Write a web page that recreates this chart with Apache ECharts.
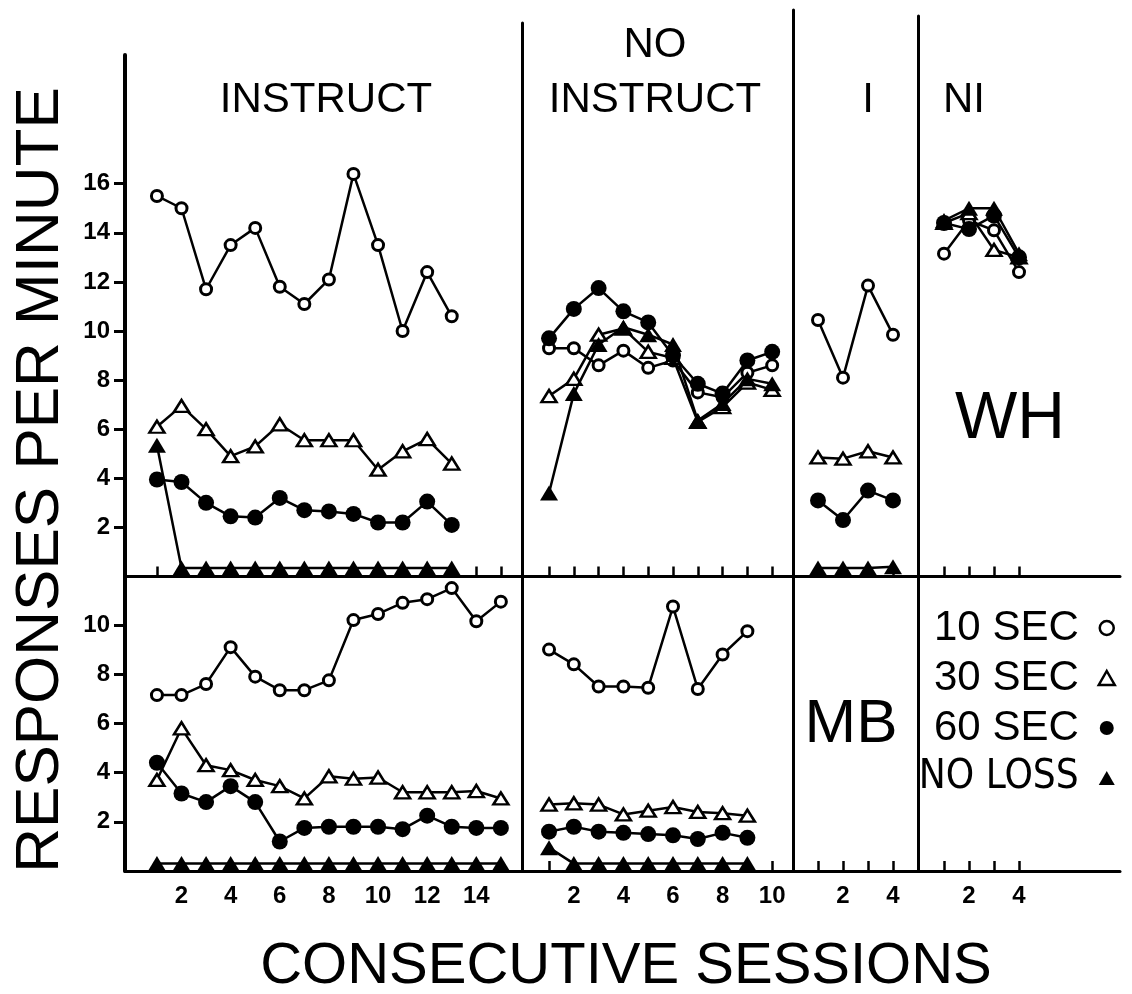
<!DOCTYPE html>
<html><head><meta charset="utf-8">
<script src="https://cdn.jsdelivr.net/npm/echarts@6/dist/echarts.min.js"></script>
<style>html,body{margin:0;padding:0;background:#fff}#c{width:1132px;height:994px}</style>
</head><body><div id="c"></div>
<script>
// ---------- DATA ----------
const conditions = ['10 SEC', '30 SEC', '60 SEC', 'NO LOSS'];
const phases = ['INSTRUCT', 'NO INSTRUCT', 'I', 'NI'];
const subjects = ['WH', 'MB'];

const yTicksWH = [2, 4, 6, 8, 10, 12, 14, 16];
const yTicksMB = [2, 4, 6, 8, 10];
const sessionTicksInstruct = [1, 2, 3, 4, 5, 6, 7, 8, 9, 10, 11, 12, 13, 14, 15];
const sessionTicksNoInstruct = [1, 2, 3, 4, 5, 6, 7, 8, 9, 10];
const sessionTicksI = [1, 2, 3, 4];
const sessionTicksNI = [1, 2, 3, 4];
const xLabelsInstruct = [2, 4, 6, 8, 10, 12, 14];
const xLabelsNoInstruct = [2, 4, 6, 8, 10];
const xLabelsI = [2, 4];
const xLabelsNI = [2, 4];

// WH (top row)
const WH_instruct_10 = [15.5, 15.0, 11.7, 13.5, 14.2, 11.8, 11.1, 12.1, 16.4, 13.5, 10.0, 12.4, 10.6];
const WH_instruct_30 = [6.1, 6.95, 6.0, 4.9, 5.3, 6.2, 5.55, 5.55, 5.55, 4.35, 5.1, 5.6, 4.6];
const WH_instruct_60 = [3.95, 3.85, 3.0, 2.45, 2.4, 3.2, 2.7, 2.65, 2.55, 2.2, 2.2, 3.05, 2.1];
const WH_instruct_NL = [5.35, 0.35, 0.35, 0.35, 0.35, 0.35, 0.35, 0.35, 0.35, 0.35, 0.35, 0.35, 0.35];

const WH_noinstruct_10 = [9.3, 9.3, 8.6, 9.2, 8.5, 8.8, 7.5, 7.3, 8.3, 8.6];
const WH_noinstruct_30 = [7.35, 8.05, 9.85, 10.1, 9.15, 8.9, 6.3, 6.9, 7.9, 7.6];
const WH_noinstruct_60 = [9.7, 10.9, 11.75, 10.8, 10.35, 9.0, 7.85, 7.45, 8.8, 9.15];
const WH_noinstruct_NL = [3.4, 7.45, 9.45, 10.15, 9.85, 9.45, 6.35, 7.05, 8.05, 7.85];

const WH_I_10 = [10.45, 8.1, 11.85, 9.85];
const WH_I_30 = [4.85, 4.8, 5.1, 4.85];
const WH_I_60 = [3.1, 2.3, 3.5, 3.1];
const WH_I_NL = [0.35, 0.35, 0.35, 0.4];

const WH_NI_10 = [13.15, 14.5, 14.1, 12.4];
const WH_NI_30 = [14.4, 14.8, 13.3, 13.0];
const WH_NI_60 = [14.4, 14.15, 14.7, 13.0];
const WH_NI_NL = [14.5, 15.0, 15.0, 13.15];

// MB (bottom row)
const MB_instruct_10 = [7.15, 7.15, 7.6, 9.1, 7.9, 7.35, 7.35, 7.75, 10.2, 10.45, 10.9, 11.05, 11.5, 10.15, 10.95];
const MB_instruct_30 = [3.7, 5.8, 4.3, 4.1, 3.7, 3.45, 2.95, 3.85, 3.75, 3.8, 3.2, 3.2, 3.2, 3.25, 2.95];
const MB_instruct_60 = [4.4, 3.15, 2.8, 3.45, 2.8, 1.2, 1.75, 1.8, 1.8, 1.8, 1.7, 2.25, 1.8, 1.75, 1.75];
const MB_instruct_NL = [0.3, 0.3, 0.3, 0.3, 0.3, 0.3, 0.3, 0.3, 0.3, 0.3, 0.3, 0.3, 0.3, 0.3, 0.3];

const MB_noinstruct_10 = [9.0, 8.4, 7.5, 7.5, 7.45, 10.75, 7.4, 8.8, 9.75];
const MB_noinstruct_30 = [2.7, 2.75, 2.7, 2.3, 2.45, 2.6, 2.4, 2.35, 2.25];
const MB_noinstruct_60 = [1.6, 1.8, 1.6, 1.55, 1.5, 1.45, 1.3, 1.55, 1.35];
const MB_noinstruct_NL = [0.95, 0.3, 0.3, 0.3, 0.3, 0.3, 0.3, 0.3, 0.3];

// ---------- LAYOUT ----------
const FONT = "'Liberation Sans', Arial, Helvetica, sans-serif";
const COLS = [
  { left: 125, width: 397, min: -0.3, max: 15.86, top: 55, ticks: sessionTicksInstruct, labels: xLabelsInstruct },
  { left: 522, width: 271, min: -0.09, max: 10.84, top: 23, ticks: sessionTicksNoInstruct, labels: xLabelsNoInstruct },
  { left: 793, width: 125, min: 0, max: 5, top: 10, ticks: sessionTicksI, labels: xLabelsI },
  { left: 918, width: 202, min: -0.04, max: 8.04, top: 16, ticks: sessionTicksNI, labels: xLabelsNI }
];
const ZERO_TOP = 576.5, PX_TOP = 24.55;
const BOT_TOP = 577, BOT_ZERO = 871, PX_BOT = 24.6;

// pick a narrow font for the long legend entry
const ctx = document.createElement('canvas').getContext('2d');
function widthIn(family, size, txt) { ctx.font = size + 'px ' + family; return ctx.measureText(txt).width; }
function hasFont(name) {
  const t = 'NO LOSS 10 SEC';
  return widthIn('monospace', 44, t) !== widthIn("'" + name + "', monospace", 44, t);
}
let narrowFamily = ['Liberation Sans Narrow', 'DejaVu Sans Condensed'].find(hasFont);
narrowFamily = narrowFamily ? "'" + narrowFamily + "'" : FONT;
const narrowSize = Math.min(44, 44 * 160 / widthIn(narrowFamily, 44, 'NO LOSS'));

const panelData = [
  [WH_instruct_10, WH_instruct_30, WH_instruct_60, WH_instruct_NL],
  [WH_noinstruct_10, WH_noinstruct_30, WH_noinstruct_60, WH_noinstruct_NL],
  [WH_I_10, WH_I_30, WH_I_60, WH_I_NL],
  [WH_NI_10, WH_NI_30, WH_NI_60, WH_NI_NL],
  [MB_instruct_10, MB_instruct_30, MB_instruct_60, MB_instruct_NL],
  [MB_noinstruct_10, MB_noinstruct_30, MB_noinstruct_60, MB_noinstruct_NL],
  [], []
];

const STY = {
  '10 SEC': { symbol: 'circle', symbolSize: 11, itemStyle: { color: '#fff', borderColor: '#000', borderWidth: 3 } },
  '30 SEC': { symbol: 'triangle', symbolSize: [15, 12], itemStyle: { color: '#fff', borderColor: '#000', borderWidth: 2.5 } },
  '60 SEC': { symbol: 'circle', symbolSize: 16, itemStyle: { color: '#000' } },
  'NO LOSS': { symbol: 'triangle', symbolSize: [18, 15], itemStyle: { color: '#000' } }
};

const grids = [], xAxes = [], yAxes = [], series = [];
for (let row = 0; row < 2; row++) {
  COLS.forEach((c, ci) => {
    const gi = row * 4 + ci;
    let top, height, ymax;
    if (row === 0) { top = c.top; height = ZERO_TOP - c.top; ymax = height / PX_TOP; }
    else { top = BOT_TOP; height = BOT_ZERO - BOT_TOP; ymax = height / PX_BOT; }
    grids.push({ left: c.left, top: top, width: c.width, height: height, containLabel: false });
    xAxes.push({
      type: 'value', gridIndex: gi, min: c.min, max: c.max,
      axisLine: { show: true, onZero: false, lineStyle: { color: '#000', width: 3 } },
      axisTick: { show: true, inside: true, length: 10, customValues: c.ticks, lineStyle: { color: '#000', width: 2.5 } },
      axisLabel: row === 1 ? { show: true, customValues: c.labels, fontSize: 24, fontWeight: 'bold', color: '#000', fontFamily: FONT, margin: 13 } : { show: false },
      splitLine: { show: false }
    });
    const yt = row === 0 ? yTicksWH : yTicksMB;
    yAxes.push({
      type: 'value', gridIndex: gi, min: 0, max: ymax,
      axisLine: { show: true, onZero: false, lineStyle: { color: '#000', width: ci === 0 ? 4 : 3 } },
      axisTick: ci === 0 ? { show: true, inside: false, length: 11, customValues: yt, lineStyle: { color: '#000', width: 3 } } : { show: false },
      axisLabel: ci === 0 ? { show: true, customValues: yt, fontSize: 24, fontWeight: 'bold', color: '#000', fontFamily: FONT, margin: 15 } : { show: false },
      splitLine: { show: false }
    });
    (panelData[gi] || []).forEach((vals, k) => {
      const name = conditions[k];
      const s = STY[name];
      series.push({
        type: 'line', name: name, xAxisIndex: gi, yAxisIndex: gi,
        data: vals.map((v, i) => [i + 1, v]),
        symbol: s.symbol, symbolSize: s.symbolSize, showAllSymbol: true,
        itemStyle: s.itemStyle, lineStyle: { color: '#000', width: 2.5 },
        clip: false, z: 2 + k, silent: true, emphasis: { disabled: true }
      });
    });
  });
}

const headingFont = 'normal 42px ' + FONT;
const option = {
  animation: false,
  backgroundColor: '#fff',
  grid: grids, xAxis: xAxes, yAxis: yAxes, series: series,
  legend: {
    orient: 'vertical', align: 'right', right: 11, top: 601, itemGap: 6,
    itemWidth: 16, itemHeight: 14, selectedMode: false,
    formatter: function (name) { return name === 'NO LOSS' ? '{n|' + name + '}' : name; },
    textStyle: {
      fontSize: 42, color: '#000', fontFamily: FONT, lineHeight: 44, padding: [0, 15, 0, 0],
      rich: { n: { fontFamily: narrowFamily, fontSize: narrowSize, lineHeight: 44, color: '#000' } }
    },
    data: [
      { name: '10 SEC', icon: 'circle', itemStyle: { color: '#fff', borderColor: '#000', borderWidth: 2.5 } },
      { name: '30 SEC', icon: 'triangle', itemStyle: { color: '#fff', borderColor: '#000', borderWidth: 2.5 } },
      { name: '60 SEC', icon: 'circle', itemStyle: { color: '#000' } },
      { name: 'NO LOSS', icon: 'triangle', itemStyle: { color: '#000' } }
    ]
  },
  graphic: [
    { type: 'text', x: 326, y: 100, style: { text: phases[0], font: headingFont, align: 'center', verticalAlign: 'middle', fill: '#000' } },
    { type: 'text', x: 655, y: 45, style: { text: 'NO', font: headingFont, align: 'center', verticalAlign: 'middle', fill: '#000' } },
    { type: 'text', x: 655, y: 100, style: { text: 'INSTRUCT', font: headingFont, align: 'center', verticalAlign: 'middle', fill: '#000' } },
    { type: 'text', x: 868, y: 100, style: { text: phases[2], font: headingFont, align: 'center', verticalAlign: 'middle', fill: '#000' } },
    { type: 'text', x: 964, y: 100, style: { text: phases[3], font: headingFont, align: 'center', verticalAlign: 'middle', fill: '#000' } },
    { type: 'text', x: 1010, y: 420, style: { text: subjects[0], font: 'normal 66px ' + FONT, align: 'center', verticalAlign: 'middle', fill: '#000' } },
    { type: 'text', x: 851, y: 725, style: { text: subjects[1], font: 'normal 62px ' + FONT, align: 'center', verticalAlign: 'middle', fill: '#000' } },
    { type: 'text', x: 41, y: 480, rotation: Math.PI / 2, style: { text: 'RESPONSES PER MINUTE', font: 'normal 62px ' + FONT, align: 'center', verticalAlign: 'middle', fill: '#000' } },
    { type: 'text', x: 626, y: 967, style: { text: 'CONSECUTIVE SESSIONS', font: 'normal 58px ' + FONT, align: 'center', verticalAlign: 'middle', fill: '#000' } }
  ]
};
const chart = echarts.init(document.getElementById('c'), null, { renderer: 'canvas' });
chart.setOption(option);
</script></body></html>
